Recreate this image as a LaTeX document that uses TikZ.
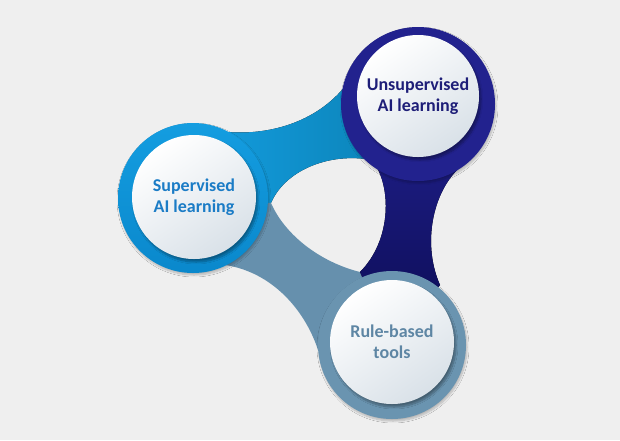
\documentclass[tikz,border=0pt]{standalone}
\usepackage{fontspec}
\setmainfont{Carlito}
\usepackage{tikz}
\usetikzlibrary{shadows.blur}

\definecolor{bggray}{HTML}{EFEFEF}
\definecolor{supblue}{HTML}{149DE0}
\definecolor{supdark}{HTML}{0A88CC}
\definecolor{bandteal}{HTML}{0A80B2}
\definecolor{unsupnavy}{HTML}{22228E}
\definecolor{stemdark}{HTML}{0A0A52}
\definecolor{rulesteel}{HTML}{6A94B0}
\definecolor{bandsteel}{HTML}{6690AD}
\definecolor{discgray}{HTML}{D9E1E8}
\definecolor{suptext}{HTML}{1B7CC6}
\definecolor{unsuptext}{HTML}{1E1E78}
\definecolor{ruletext}{HTML}{5E86A4}

\tikzset{
    ring/.style={circle, inner sep=0pt, minimum size=#1,
        blur shadow={shadow xshift=1pt, shadow yshift=-2pt, shadow blur steps=10, shadow opacity=25}},
    disc/.style={circle, inner sep=0pt, minimum size=124pt, align=center,
        top color=white, bottom color=discgray, shading angle=35,
        font=\bfseries\fontsize{18}{21}\selectfont,
        blur shadow={shadow xshift=2pt, shadow yshift=-3pt, shadow blur steps=10, shadow opacity=35}}
}

\begin{document}
\begin{tikzpicture}[x=1pt, y=-1pt]

    % Background
    \fill[bggray] (0,0) rectangle (620,440);
    \useasboundingbox (0,0) rectangle (620,440);

    % Centres of the three rings
    \coordinate (c1) at (193,198);
    \coordinate (c2) at (418,104);
    \coordinate (c3) at (392,345);

    % Band between supervised and unsupervised
    \fill[left color=supblue, right color=bandteal]
        (c1) -- (228,132) .. controls (265,135) and (315,125) .. (347,84)
        -- (c2) -- (372,160) .. controls (330,152) and (285,170) .. (271,203) -- cycle;

    % Band between supervised and rule-based
    \fill[bandsteel]
        (c1) -- (225,265) .. controls (272,272) and (305,310) .. (318,350)
        -- (c3) -- (360,272) .. controls (320,262) and (285,235) .. (271,203) -- cycle;

    % Stem between unsupervised and rule-based
    \fill[top color=unsupnavy, bottom color=stemdark]
        (c2) -- (470,160) .. controls (435,180) and (420,240) .. (440,285)
        -- (c3) -- (360,272) .. controls (392,240) and (392,185) .. (372,160) -- cycle;

    % Outer rings
    \node[ring=150pt, top color=supblue, bottom color=supdark] (r1) at (c1) {};
    \node[ring=154pt, fill=unsupnavy] (r2) at (c2) {};
    \node[ring=148pt, fill=rulesteel] (r3) at (c3) {};

    % Inner discs with labels
    \node[disc, text=suptext] (sup) at (194,197) {Supervised\\AI learning};
    \node[disc, minimum size=122pt, text=unsuptext] (unsup) at (418,96) {Unsupervised\\AI learning};
    \node[disc, text=ruletext] (rule) at (392,342) {Rule-based\\tools};

\end{tikzpicture}
\end{document}
